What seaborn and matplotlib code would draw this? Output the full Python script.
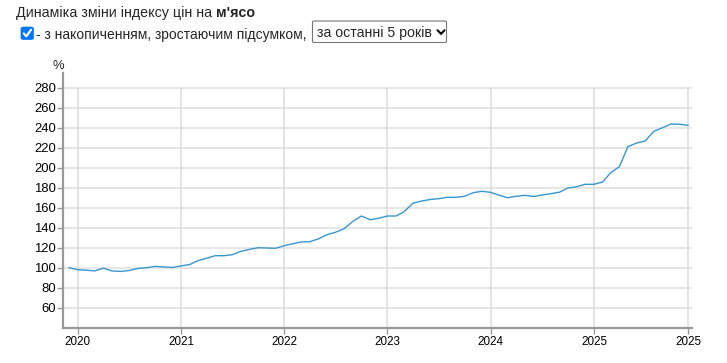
import matplotlib
matplotlib.use("Agg")
import matplotlib.pyplot as plt
from matplotlib.patches import FancyBboxPatch
from matplotlib.lines import Line2D
import seaborn as sns
import pandas as pd

# ---- data ----
months = pd.date_range("2019-12-01", "2025-12-01", freq="MS")
values = [
    100.0,
    98.0, 97.5, 96.8, 99.5, 96.8, 96.3, 97.2, 99.3, 100.0, 101.3, 100.8, 100.2,
    101.8, 103.2, 107.0, 109.4, 112.0, 112.0, 113.0, 116.4, 118.4, 120.0, 119.7, 119.4,
    122.0, 124.0, 125.7, 126.0, 128.7, 133.0, 135.4, 139.0, 146.4, 151.7, 148.0, 149.4,
    151.7, 151.7, 156.0, 164.4, 166.6, 168.2, 169.0, 170.4, 170.4, 171.4, 175.0, 176.4,
    175.4, 172.4, 170.0, 171.4, 172.4, 171.2, 172.7, 174.0, 175.5, 179.7, 181.0, 183.4,
    183.4, 185.7, 195.0, 201.0, 221.0, 224.7, 226.7, 236.4, 240.0, 243.7, 243.4, 242.4,
]
y_ticks = [60, 80, 100, 120, 140, 160, 180, 200, 220, 240, 260, 280]
x_tick_dates = pd.to_datetime(["2020-01-01", "2021-01-01", "2022-01-01", "2023-01-01",
                               "2024-01-01", "2025-01-01", "2025-12-01"])
x_tick_labels = ["2020", "2021", "2022", "2023", "2024", "2025", "2025"]
title_text = "Динаміка зміни індексу цін на "
title_bold = "м'ясо"
option_text = "- з накопиченням, зростаючим підсумком,"
select_text = "за останні 5 років"
y_unit = "%"

df = pd.DataFrame({"date": months, "value": values})

W, H = 727, 363
sns.set_theme(style="white")
plt.rcParams["font.family"] = ["Liberation Sans", "DejaVu Sans"]

fig = plt.figure(figsize=(W / 100, H / 100), dpi=100)
fig.patch.set_facecolor("white")

def fx(px):
    return px / W

def fy(py):
    return 1 - py / H

left, right, top, bottom = 63, 692, 72.7, 327.7
ax = fig.add_axes([fx(left), fy(bottom), (right - left) / W, (bottom - top) / H])
ax.set_facecolor("white")

ymin, ymax = 40, 295
for t in y_ticks:
    ax.axhline(t, color="#e6e6e6", lw=1.5, zorder=0)
for d in x_tick_dates:
    ax.axvline(d, ymin=0, ymax=(280 - ymin) / (ymax - ymin), color="#dcdcdc", lw=1.1, zorder=0)

sns.lineplot(data=df, x="date", y="value", ax=ax, color="#3897cf", linewidth=1.0, zorder=3)

x0 = pd.Timestamp("2019-11-10")
x1 = pd.Timestamp("2025-12-14")
ax.set_xlim(x0, x1)
ax.set_ylim(ymin, ymax)
ax.set_yticks(y_ticks)
ax.set_yticklabels([str(t) for t in y_ticks])
ax.set_xticks(x_tick_dates)
ax.set_xticklabels(x_tick_labels)
ax.set_xlabel("")
ax.set_ylabel("")

for s in ["top", "right"]:
    ax.spines[s].set_visible(False)
for s in ["left", "bottom"]:
    ax.spines[s].set_color("#999999")
    ax.spines[s].set_linewidth(1.6)

ax.tick_params(axis="y", labelsize=9.4, length=4, width=1, color="#999999",
               pad=1.2, labelcolor="black", left=True)
ax.tick_params(axis="x", labelsize=8.4, length=4, width=1, color="#999999",
               pad=2, labelcolor="black", bottom=True)

fig.text(fx(58), fy(66), y_unit, fontsize=9.4, ha="center", va="center")

t1 = fig.text(fx(16), fy(17.3), title_text, fontsize=10.3, ha="left", va="baseline")
fig.canvas.draw()
r = fig.canvas.get_renderer()
bb = t1.get_window_extent(renderer=r)
fig.text(bb.x1 / W, fy(17.3), title_bold, fontsize=10.3, fontweight="bold",
         ha="left", va="baseline")

cb = FancyBboxPatch((fx(21), fy(39.5)), 12.5 / W, 12.5 / H,
                    boxstyle="round,pad=0,rounding_size=0.004",
                    transform=fig.transFigure, facecolor="#0075ff",
                    edgecolor="#0075ff", lw=0.5)
fig.patches.append(cb)
fig.lines.append(Line2D([fx(23.8), fx(26.3), fx(31)], [fy(33.5), fy(36.3), fy(29.8)],
                        transform=fig.transFigure, color="white", lw=1.6,
                        solid_capstyle="round", solid_joinstyle="round"))

fig.text(fx(36), fy(38.5), option_text, fontsize=10, ha="left", va="baseline")

sel = FancyBboxPatch((fx(312.5), fy(42.5)), (446.5 - 312.5) / W, (42.5 - 21) / H,
                     boxstyle="round,pad=0,rounding_size=0.003",
                     transform=fig.transFigure, facecolor="white",
                     edgecolor="#767676", lw=0.8)
fig.patches.append(sel)
fig.text(fx(316.7), fy(36.5), select_text, fontsize=10.2, ha="left", va="baseline")
fig.lines.append(Line2D([fx(437.5), fx(441), fx(444.5)], [fy(30.3), fy(33.8), fy(30.3)],
                        transform=fig.transFigure, color="black", lw=1.5,
                        solid_capstyle="round", solid_joinstyle="miter"))

fig.savefig("out.png", dpi=100, facecolor="white")
